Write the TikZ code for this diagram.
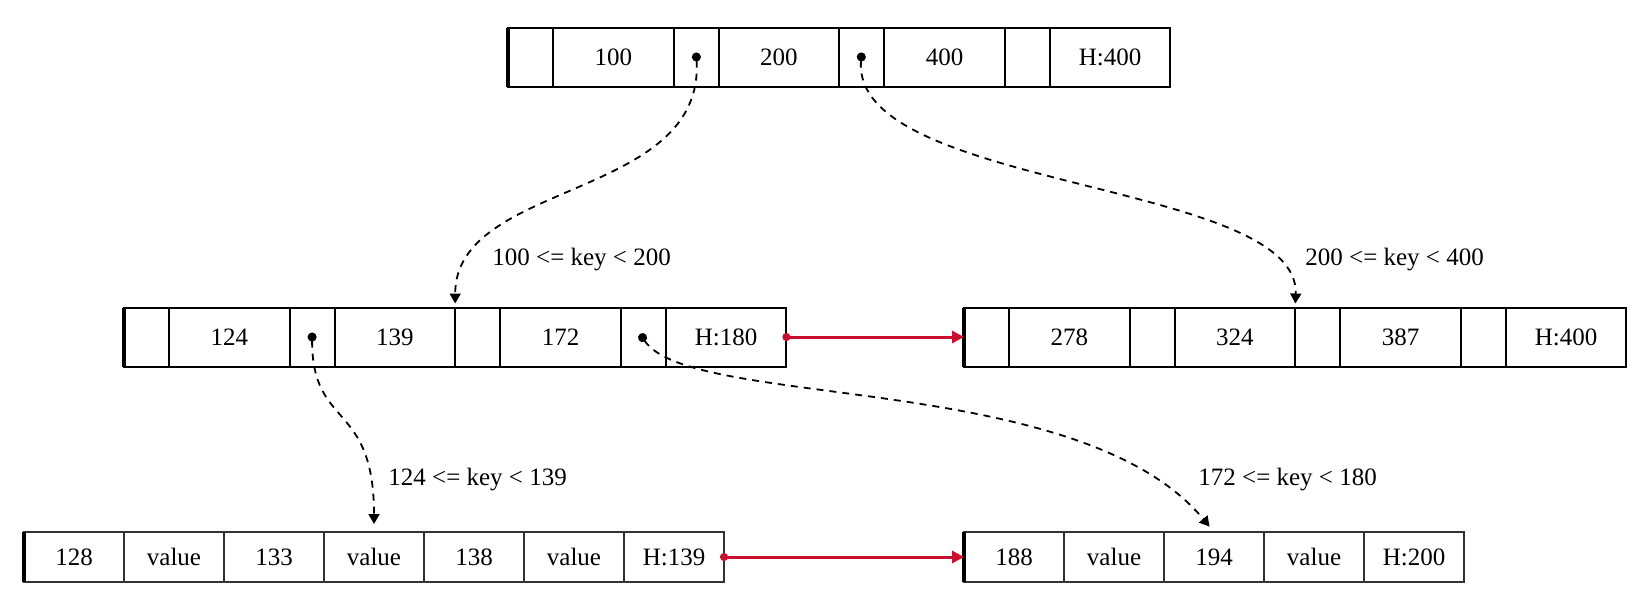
\documentclass[tikz,border=0pt]{standalone}
\usepackage{fontspec}
\setmainfont{Liberation Serif}
\usetikzlibrary{arrows.meta}
\usetikzlibrary{positioning}

\definecolor{linkred}{RGB}{200,16,46}

\tikzset{
 cell/.style={draw, line width=1pt, inner sep=0pt, outer sep=0pt, minimum height=29.5pt, font=\fontsize{12.5}{15}\selectfont},
 leaf/.style={cell, draw=black!80, minimum height=25pt, minimum width=50pt},
 lbl/.style={anchor=west, inner sep=0pt, font=\fontsize{12.5}{15}\selectfont},
 ptr/.style={line width=0.9pt, dash pattern=on 3.5pt off 3pt, shorten >=2pt, {Circle[length=4.5pt]}-{Triangle[length=5pt,width=5.5pt]}},
 sib/.style={linkred, line width=1.5pt, {Circle[length=4pt]}-{Triangle[length=6pt,width=6pt]}}
}

\begin{document}
\begin{tikzpicture}[x=.5pt,y=-.5pt]
\useasboundingbox (0,0) rectangle (1652,606);

% inner nodes
\node[cell, anchor=west, minimum width=22.5pt] (top1) at (508,57) {};
\foreach \t [count=\i from 2, evaluate=\i as \j using int(\i-1), evaluate=\i as \w using {iseven(\i) ? 60.3 : 22.5}] in {100,{},200,{},400,{},H:400}
 \node[cell, right=0pt of top\j, minimum width=\w pt] (top\i) {\t};

\node[cell, anchor=west, minimum width=22.5pt] (mid1) at (124,337) {};
\foreach \t [count=\i from 2, evaluate=\i as \j using int(\i-1), evaluate=\i as \w using {iseven(\i) ? 60.3 : 22.5}] in {124,{},139,{},172,{},H:180}
 \node[cell, right=0pt of mid\j, minimum width=\w pt] (mid\i) {\t};

\node[cell, anchor=west, minimum width=22.5pt] (rgt1) at (964,337) {};
\foreach \t [count=\i from 2, evaluate=\i as \j using int(\i-1), evaluate=\i as \w using {iseven(\i) ? 60.3 : 22.5}] in {278,{},324,{},387,{},H:400}
 \node[cell, right=0pt of rgt\j, minimum width=\w pt] (rgt\i) {\t};

% leaves
\node[leaf, anchor=west] (lfa1) at (24,557) {128};
\foreach \t [count=\i from 2, evaluate=\i as \j using int(\i-1)] in {value,133,value,138,value,H:139}
 \node[leaf, right=0pt of lfa\j] (lfa\i) {\t};

\node[leaf, anchor=west] (lfb1) at (964,557) {188};
\foreach \t [count=\i from 2, evaluate=\i as \j using int(\i-1)] in {value,194,value,H:200}
 \node[leaf, right=0pt of lfb\j] (lfb\i) {\t};

\foreach \n in {top1,mid1,rgt1,lfa1,lfb1}
 \draw[line width=2pt] (\n.north west) -- (\n.south west);

% sibling links
\draw[sib] ([xshift=-2pt]mid8.east) -- (rgt1.west);
\draw[sib] ([xshift=-2pt]lfa7.east) -- (lfb1.west);

% child pointers
\draw[ptr] ([yshift=2.25pt]top3.center) .. controls (705,200) and (455,180) .. (mid4.north east);
\draw[ptr] ([yshift=2.25pt]top5.center) .. controls (850,190) and (1300,180) .. (rgt4.north east);
\draw[ptr, shorten >=4pt] ([yshift=2.25pt]mid3.center) .. controls (312,430) and (374,400) .. (lfa4.north);
\draw[ptr, shorten >=3.5pt] ([shift={(-1.6pt,1.6pt)}]mid7.center) .. controls (690,410) and (1080,370) .. (lfb3.north);

\node[lbl] (k1) at (492,260) {100 <= key < 200};
\node[lbl] (k2) at (1305,260) {200 <= key < 400};
\node[lbl] (k3) at (388,480) {124 <= key < 139};
\node[lbl] (k4) at (1198,480) {172 <= key < 180};
\end{tikzpicture}
\end{document}
